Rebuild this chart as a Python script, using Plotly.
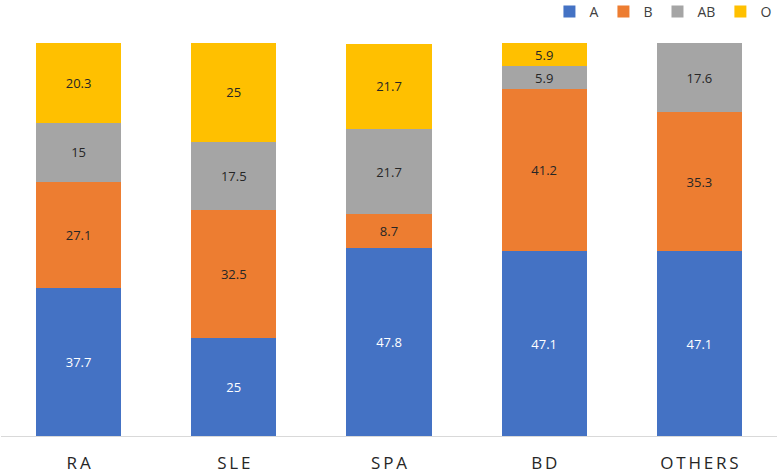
import plotly.graph_objects as go

categories = ['RA', 'SLE', 'SPA', 'BD', 'OTHERS']
a_vals = [37.7, 25, 47.8, 47.1, 47.1]
b_vals = [27.1, 32.5, 8.7, 41.2, 35.3]
ab_vals = [15, 17.5, 21.7, 5.9, 17.6]
o_vals = [20.3, 25, 21.7, 5.9, None]

series = [
    ('A', a_vals, '#4472C4', 'white'),
    ('B', b_vals, '#ED7D31', '#262626'),
    ('AB', ab_vals, '#A5A5A5', '#262626'),
    ('O', o_vals, '#FFC000', '#262626'),
]

fig = go.Figure()
for name, vals, color, txtcolor in series:
    fig.add_trace(go.Bar(
        x=categories, y=vals, name=name,
        marker=dict(color=color, line=dict(width=0)),
        text=[('' if v is None else f'{v:g}') for v in vals],
        textposition='inside', insidetextanchor='middle',
        textfont=dict(color=txtcolor, size=13, family='Open Sans'),
        constraintext='none',
    ))

# widen the category labels a little, like the spaced-out originals
spaced = ['\u2009'.join(c) for c in categories]

fig.update_layout(
    barmode='stack',
    bargap=0.45,
    width=778, height=475,
    margin=dict(l=1, r=1, t=43, b=39, autoexpand=False),
    plot_bgcolor='white', paper_bgcolor='white',
    font=dict(family='Open Sans', color='#595959'),
    uniformtext=dict(minsize=13, mode='show'),
    legend=dict(
        orientation='h', xref='container', yref='container',
        x=0.998, xanchor='right', y=0.975, yanchor='middle',
        font=dict(size=14, color='#404040'),
        itemwidth=30, traceorder='normal',
    ),
)
fig.update_xaxes(
    showline=True, linecolor='#D9D9D9', linewidth=1,
    ticks='', tickfont=dict(size=17, color='#262626'),
    tickvals=categories, ticktext=spaced, ticklabelstandoff=12,
    showgrid=False,
)
fig.update_yaxes(visible=False, range=[0, 100.1], showgrid=False)

# drop the default page margin so the figure fills the window
fig.write_html('out.html', config={'displayModeBar': False},
               post_script="document.body.style.margin='0';")
